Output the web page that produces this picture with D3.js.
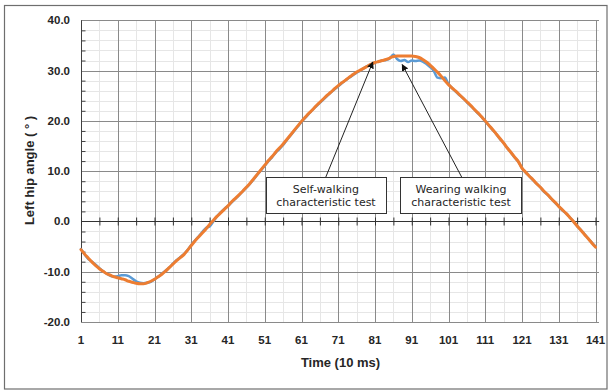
<!DOCTYPE html>
<html>
<head>
<meta charset="utf-8">
<script src="https://cdn.jsdelivr.net/npm/d3@7"></script>
<style>
  body { margin: 0; background: #fff; }
  svg { display: block; }
</style>
</head>
<body>
<div id="chart"></div>
<script>
// data ///////////////////////////////////////////////////////////////
// left hip angle (deg), one value per frame 1..141 (10 ms each)
const selfWalking = [
  -5.6, -6.5, -7.3, -8.1, -8.8, -9.4, -9.9, -10.4, -10.7, -11.0,
  -11.2, -11.4, -11.6, -11.9, -12.1, -12.3, -12.4, -12.4, -12.2, -11.9,
  -11.5, -11.0, -10.5, -9.9, -9.2, -8.5, -7.8, -7.2, -6.6, -5.7,
  -4.8, -3.9, -3.1, -2.3, -1.5, -0.6, 0.2, 1.0, 1.7, 2.4,
  3.1, 3.9, 4.6, 5.3, 6.0, 6.8, 7.6, 8.5, 9.4, 10.3,
  11.2, 12.1, 12.9, 13.8, 14.6, 15.4, 16.3, 17.2, 18.1, 19.0,
  19.9, 20.7, 21.5, 22.2, 23.0, 23.7, 24.4, 25.1, 25.7, 26.4,
  27.0, 27.6, 28.1, 28.7, 29.2, 29.7, 30.1, 30.5, 30.9, 31.3,
  31.6, 31.8, 32.0, 32.2, 32.5, 32.8, 32.9, 32.9, 32.9, 32.9,
  32.9, 32.8, 32.6, 32.2, 31.7, 31.1, 30.4, 29.7, 28.9, 28.0,
  27.2, 26.5, 25.9, 25.2, 24.5, 23.8, 23.1, 22.3, 21.6, 20.8,
  20.0, 19.1, 18.3, 17.4, 16.5, 15.6, 14.6, 13.7, 12.8, 11.9,
  10.6, 9.8, 9.0, 8.3, 7.5, 6.8, 6.0, 5.3, 4.5, 3.8,
  3.0, 2.3, 1.6, 0.8, 0.0, -0.9, -1.7, -2.6, -3.4, -4.3,
  -5.1
];

const wearingWalking = [
  -5.5, -6.6, -7.5, -8.0, -8.6, -9.3, -9.9, -10.4, -10.8, -11.0,
  -10.9, -10.7, -10.7, -10.9, -11.4, -11.9, -12.2, -12.3, -12.2, -12.0,
  -11.5, -11.0, -10.4, -9.8, -9.2, -8.4, -7.7, -7.1, -6.5, -5.7,
  -4.7, -3.8, -3.0, -2.1, -1.3, -1.0, 0.0, 1.0, 1.8, 2.5,
  3.1, 3.8, 4.5, 5.2, 6.0, 6.7, 7.5, 8.4, 9.3, 10.2,
  11.1, 12.0, 12.8, 13.7, 14.4, 15.2, 16.2, 17.1, 18.0, 18.9,
  19.8, 20.6, 21.4, 22.2, 22.9, 23.6, 24.3, 25.0, 25.7, 26.3,
  26.9, 27.5, 28.1, 28.6, 29.1, 29.6, 30.0, 30.5, 30.9, 31.3,
  31.6, 31.8, 32.0, 32.1, 32.4, 33.2, 32.3, 31.9, 32.1, 31.7,
  32.0, 31.9, 32.0, 31.8, 31.3, 30.7, 29.9, 28.6, 28.5, 28.6,
  27.3, 26.5, 25.8, 25.1, 24.5, 23.7, 23.0, 22.3, 21.5, 20.8,
  19.9, 19.1, 18.2, 17.4, 16.4, 15.6, 14.6, 13.7, 12.7, 11.9,
  10.6, 9.7, 9.0, 8.2, 7.5, 6.8, 5.9, 5.3, 4.5, 3.7,
  3.0, 2.2, 1.6, 0.8, 0.0, -0.9, -1.7, -2.5, -3.4, -4.2,
  -5.0
];

const xTickLabels = [1, 11, 21, 31, 41, 51, 61, 71, 81, 91, 101, 111, 121, 131, 141];
const yTicks = [-20, -10, 0, 10, 20, 30, 40];

// annotation boxes in data units (frame, angle)
const notes = [
  { lines: ["Self-walking", "characteristic test"], x0: 51.3, x1: 84.0, y0: 8.8, y1: 1.7, from: [67.6, 8.8], to: [80.4, 31.7] },
  { lines: ["Wearing walking", "characteristic test"], x0: 87.9, x1: 120.9, y0: 8.8, y1: 1.7, from: [104.6, 8.8], to: [88.4, 31.2] }
];

// layout ///////////////////////////////////////////////////////////////
const W = 612, H = 391;
const plotL = 81, plotR = 595.5, plotT = 20.3, plotB = 322;

const x = d3.scaleLinear().domain([1, 141]).range([plotL, plotR]);
const y = d3.scaleLinear().domain([-20, 40]).range([plotB, plotT]);
const gridRight = x(142);

const svg = d3.select("#chart").append("svg")
  .attr("width", W).attr("height", H);

svg.append("rect")
  .attr("x", 4.5).attr("y", 5.5).attr("width", 602.5).attr("height", 383.5)
  .attr("fill", "#fff").attr("stroke", "#6e6e6e").attr("stroke-width", 1.2);

const grid = svg.append("g").attr("shape-rendering", "crispEdges");

// minor grid
const minorY = d3.range(-20, 41, 2).filter(v => v % 10 !== 0);
grid.selectAll(".hmin").data(minorY).join("line")
  .attr("x1", plotL).attr("x2", gridRight)
  .attr("y1", d => Math.round(y(d)) + 0.5).attr("y2", d => Math.round(y(d)) + 0.5)
  .attr("stroke", "#e6e6e6");

const minorX = xTickLabels.slice(0, -1).map(v => v + 5);
grid.selectAll(".vmin").data(minorX).join("line")
  .attr("x1", d => Math.round(x(d)) + 0.5).attr("x2", d => Math.round(x(d)) + 0.5)
  .attr("y1", plotT).attr("y2", plotB)
  .attr("stroke", "#e6e6e6");

// major grid
grid.selectAll(".hmaj").data(yTicks.filter(v => v !== 0)).join("line")
  .attr("x1", plotL).attr("x2", gridRight)
  .attr("y1", d => Math.round(y(d)) + 0.5).attr("y2", d => Math.round(y(d)) + 0.5)
  .attr("stroke", "#8a8a8a");

grid.selectAll(".vmaj").data(xTickLabels.slice(1)).join("line")
  .attr("x1", d => Math.round(x(d)) + 0.5).attr("x2", d => Math.round(x(d)) + 0.5)
  .attr("y1", plotT).attr("y2", plotB)
  .attr("stroke", "#8a8a8a");

// y axis with inside minor ticks
const yAxis = svg.append("g").attr("transform", `translate(${Math.round(plotL) + 0.5},0)`)
  .call(d3.axisRight(y).tickValues(minorY).tickSize(4).tickFormat(""));
yAxis.select(".domain").attr("stroke", "#404040").attr("d", `M0,${plotT}V${plotB}`);
yAxis.selectAll(".tick line").attr("stroke", "#404040");

// x axis sits at 0, ticks cross it
const xAxis = svg.append("g").attr("transform", `translate(0,${Math.round(y(0)) + 0.5})`)
  .call(d3.axisBottom(x).tickValues(xTickLabels.concat(minorX)).tickSize(4).tickSizeOuter(0).tickFormat(""));
xAxis.select(".domain").attr("stroke", "#333").attr("d", `M${plotL},0H${gridRight}`);
xAxis.selectAll(".tick line").attr("stroke", "#333").attr("y1", -4).attr("y2", 4);

// tick labels
const labelFont = "'Liberation Sans', Arial, sans-serif";
svg.append("g").selectAll("text").data(yTicks).join("text")
  .attr("x", 70).attr("y", d => y(d) + 4)
  .attr("text-anchor", "end")
  .attr("font-family", labelFont).attr("font-weight", "bold").attr("font-size", 11.5)
  .attr("fill", "#262626")
  .text(d => d.toFixed(1));

svg.append("g").selectAll("text").data(xTickLabels).join("text")
  .attr("x", d => x(d)).attr("y", 343.5)
  .attr("text-anchor", "middle")
  .attr("font-family", labelFont).attr("font-weight", "bold").attr("font-size", 11.5)
  .attr("fill", "#262626")
  .text(d => d);

// axis titles
svg.append("text")
  .attr("x", 340.5).attr("y", 367)
  .attr("text-anchor", "middle")
  .attr("font-family", labelFont).attr("font-weight", "bold").attr("font-size", 13)
  .attr("fill", "#262626")
  .text("Time (10 ms)");

svg.append("text")
  .attr("transform", "translate(33.5,170.5) rotate(-90)")
  .attr("text-anchor", "middle")
  .attr("font-family", labelFont).attr("font-weight", "bold").attr("font-size", 13)
  .attr("fill", "#262626")
  .text("Left hip angle ( ° )");

// lines
const line = d3.line()
  .x((d, i) => x(i + 1))
  .y(d => y(d))
  .curve(d3.curveMonotoneX);

svg.append("path").datum(wearingWalking)
  .attr("d", line).attr("fill", "none")
  .attr("stroke", "#5b9bd5").attr("stroke-width", 2.5)
  .attr("stroke-linejoin", "round").attr("stroke-linecap", "round");

svg.append("path").datum(selfWalking)
  .attr("d", line).attr("fill", "none")
  .attr("stroke", "#ed7d31").attr("stroke-width", 3)
  .attr("stroke-linejoin", "round").attr("stroke-linecap", "round");

// annotations
svg.append("defs").append("marker")
  .attr("id", "arrow")
  .attr("viewBox", "0 0 10 10").attr("refX", 9).attr("refY", 5)
  .attr("markerWidth", 7).attr("markerHeight", 7)
  .attr("markerUnits", "userSpaceOnUse")
  .attr("orient", "auto")
  .append("path").attr("d", "M0,0L10,5L0,10z").attr("fill", "#111");

const note = svg.append("g").selectAll("g").data(notes).join("g");

note.append("line")
  .attr("x1", d => x(d.from[0])).attr("y1", d => y(d.from[1]))
  .attr("x2", d => x(d.to[0])).attr("y2", d => y(d.to[1]))
  .attr("stroke", "#222").attr("stroke-width", 1)
  .attr("marker-end", "url(#arrow)");

note.append("rect")
  .attr("x", d => Math.round(x(d.x0)) + 0.5).attr("y", d => Math.round(y(d.y0)) + 0.5)
  .attr("width", d => Math.round(x(d.x1) - x(d.x0)))
  .attr("height", d => Math.round(y(d.y1) - y(d.y0)))
  .attr("fill", "#fff").attr("stroke", "#333").attr("stroke-width", 1);

note.each(function (d) {
  const cx = (x(d.x0) + x(d.x1)) / 2;
  d3.select(this).selectAll("text").data(d.lines).join("text")
    .attr("x", cx).attr("y", (t, i) => y(d.y0) + 15.5 + i * 13.2)
    .attr("text-anchor", "middle")
    .attr("font-family", "'DejaVu Sans', sans-serif").attr("font-size", 11)
    .attr("fill", "#262626")
    .text(t => t);
});
</script>
</body>
</html>
